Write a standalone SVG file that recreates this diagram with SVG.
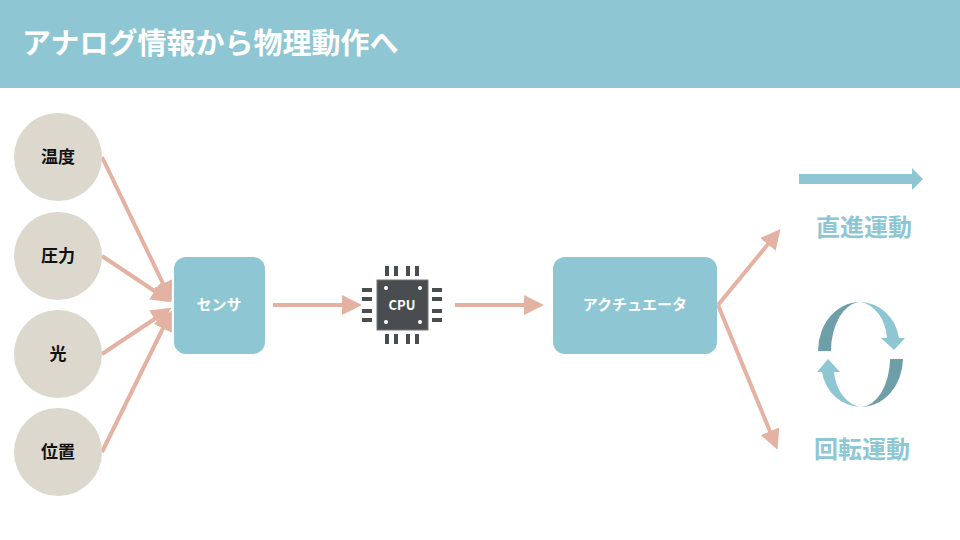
<svg xmlns="http://www.w3.org/2000/svg" width="960" height="540" viewBox="0 0 960 540">
<style>
text{font-family:"Noto Sans CJK JP","Noto Sans",sans-serif;font-weight:bold}
.c{fill:#DDD8CE}.n{font-size:17px;fill:#111;text-anchor:middle}
.b{fill:#8EC7D3}.l{stroke:#E4B2A2;stroke-width:4;fill:none;marker-end:url(#a)}
.w{font-size:15px;fill:#fff;text-anchor:middle}
.g{font-size:24px;fill:#8EC7D3;text-anchor:middle}
.pin{fill:#4A4D4F}
</style>
<defs><marker id="a" viewBox="0 0 10 10" refX="8" refY="5" markerWidth="5" markerHeight="5" orient="auto" markerUnits="strokeWidth"><path d="M0,0L10,5L0,10Z" fill="#E4B2A2"/></marker></defs>
<rect width="960" height="88" fill="#8EC7D3"/>
<text x="22" y="54" font-size="29" fill="#fff">アナログ情報から物理動作へ</text>
<g id="connectors">
<line class="l" x1="102" y1="157" x2="170" y2="298"/>
<line class="l" x1="102" y1="256" x2="168" y2="300"/>
<line class="l" x1="102" y1="354" x2="168" y2="310"/>
<line class="l" x1="102" y1="452" x2="170" y2="314"/>
<line class="l" x1="273" y1="305" x2="358" y2="305"/>
<line class="l" x1="455" y1="305" x2="540" y2="305"/>
<line class="l" x1="718" y1="305" x2="778" y2="232"/>
<line class="l" x1="718" y1="305" x2="776" y2="446"/>
</g>
<g id="n1"><circle class="c" cx="58" cy="157" r="44"/><text class="n" x="58" y="163">温度</text></g>
<g id="n2"><circle class="c" cx="58" cy="256" r="44"/><text class="n" x="58" y="262">圧力</text></g>
<g id="n3"><circle class="c" cx="58" cy="354" r="44"/><text class="n" x="58" y="360">光</text></g>
<g id="n4"><circle class="c" cx="58" cy="452" r="44"/><text class="n" x="58" y="458">位置</text></g>
<g id="sensor"><rect class="b" x="174" y="257" width="91" height="97" rx="12"/><text class="w" x="219" y="310">センサ</text></g>
<g id="cpu">
<rect x="377" y="280" width="51" height="50" fill="#4A4D4F" stroke="#777" stroke-width="1"/>
<g class="pin"><rect x="385" y="266" width="4" height="10"/><rect x="394" y="266" width="4" height="10"/><rect x="406" y="266" width="4" height="10"/><rect x="415" y="266" width="4" height="10"/>
<rect x="385" y="334" width="4" height="10"/><rect x="394" y="334" width="4" height="10"/><rect x="406" y="334" width="4" height="10"/><rect x="415" y="334" width="4" height="10"/>
<rect x="362" y="288" width="10" height="4"/><rect x="362" y="297" width="10" height="4"/><rect x="362" y="309" width="10" height="4"/><rect x="362" y="318" width="10" height="4"/>
<rect x="432" y="288" width="10" height="4"/><rect x="432" y="297" width="10" height="4"/><rect x="432" y="309" width="10" height="4"/><rect x="432" y="318" width="10" height="4"/></g>
<g fill="#fff"><circle cx="386" cy="288" r="2"/><circle cx="420" cy="288" r="2"/><circle cx="386" cy="322" r="2"/><circle cx="420" cy="322" r="2"/></g>
<text x="402" y="310" font-size="13" fill="#fff" text-anchor="middle" font-family="Liberation Sans,sans-serif">CPU</text>
</g>
<g id="actuator"><rect class="b" x="553" y="257" width="164" height="97" rx="12"/><text class="w" x="635" y="310">アクチュエータ</text></g>
<g id="linear"><path d="M799,174H912V168L923,179L912,190V184H799Z" fill="#8EC7D3"/><text class="g" x="864" y="236">直進運動</text></g>
<g id="rotary">
<path d="M818,351A42,49 0 0 1 860,302A30,49 0 0 0 831,351Z" fill="#6E9FA8"/>
<path d="M860,302A40,42 0 0 1 899,338H905L894,350L881,338H887A30,40 0 0 0 860,302Z" fill="#8EC7D3"/>
<path d="M903,359A42,49 0 0 1 861,407A30,49 0 0 0 890,359Z" fill="#6E9FA8"/>
<path d="M861,407A40,42 0 0 1 822,372H817L828,359L840,372H834A30,40 0 0 0 861,407Z" fill="#8EC7D3"/>
<text class="g" x="862" y="458">回転運動</text>
</g>
</svg>
